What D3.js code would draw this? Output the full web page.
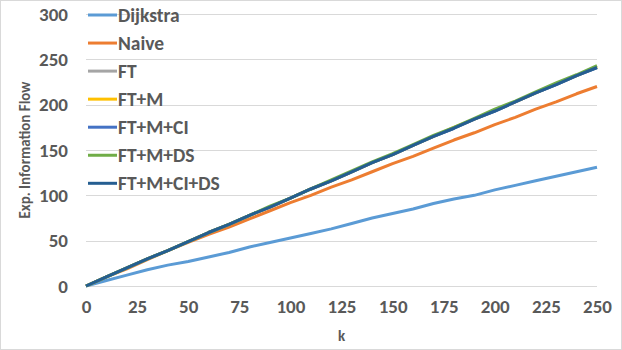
<!DOCTYPE html>
<html>
<head>
<meta charset="utf-8">
<script src="https://cdn.jsdelivr.net/npm/d3@7"></script>
<style>
  body { margin: 0; background: #fff; }
  text { font-family: Carlito, Lato, "Liberation Sans", sans-serif; font-weight: bold; fill: #595959; }
</style>
</head>
<body>
<div id="chart"></div>
<script>
// k values (x axis)
var ks = [0, 10, 20, 30, 40, 50, 60, 70, 80, 90, 100, 110, 120, 130, 140, 150, 160, 170, 180, 190, 200, 210, 220, 230, 240, 250];

// series values
var dijkstra = [0, 6, 12, 18, 23, 27, 32, 37, 43, 48, 53, 58, 63, 69, 75, 80, 85, 91, 96, 100, 106, 111, 116, 121, 126, 131];
var naive    = [0, 10, 19, 29, 39, 48, 57, 65, 74, 83, 92, 100, 109, 117, 126, 135, 143, 152, 161, 169, 178, 186, 195, 203, 212, 220];
var ft       = [0, 10, 20, 30, 39, 49, 59, 68, 78, 87, 97, 107, 116, 126, 136, 145, 155, 165, 174, 184, 193, 203, 213, 222, 232, 241];
var ftM      = [0, 10, 20, 30, 39, 49, 59, 68, 78, 87, 97, 107, 116, 126, 136, 145, 155, 165, 175, 184, 194, 203, 213, 223, 232, 242];
var ftMCI    = [0, 10, 20, 30, 39, 49, 59, 68, 78, 87, 97, 107, 116, 126, 136, 145, 155, 165, 174, 184, 193, 203, 213, 222, 232, 241];
var ftMDS    = [0, 10, 20, 30, 39, 49, 59, 68, 78, 88, 97, 107, 117, 127, 137, 146, 156, 166, 175, 185, 195, 204, 214, 224, 233, 243];
var ftMCIDS  = [0, 10, 20, 30, 39, 49, 59, 68, 78, 87, 97, 107, 116, 126, 136, 145, 155, 165, 174, 184, 193, 203, 213, 222, 232, 241];

var names  = ['Dijkstra', 'Naive', 'FT', 'FT+M', 'FT+M+CI', 'FT+M+DS', 'FT+M+CI+DS'];
var colors = ['#5B9BD5', '#ED7D31', '#A5A5A5', '#FFC000', '#4472C4', '#70AD47', '#255E91'];
var xTicks = [0, 25, 50, 75, 100, 125, 150, 175, 200, 225, 250];
var yTicks = [0, 50, 100, 150, 200, 250, 300];

var seriesValues = [dijkstra, naive, ft, ftM, ftMCI, ftMDS, ftMCIDS];

var W = 622, H = 350;
var margin = {top: 14, right: 25, bottom: 64, left: 86};
var width = W - margin.left - margin.right,
    height = H - margin.top - margin.bottom;

var svg = d3.select("#chart").append("svg")
    .attr("width", W)
    .attr("height", H);

// chart border
svg.append("rect")
    .attr("x", 0.5).attr("y", 0.5)
    .attr("width", W - 1).attr("height", H - 1)
    .attr("fill", "#fff")
    .attr("stroke", "#D9D9D9");

var g = svg.append("g")
    .attr("transform", "translate(" + margin.left + "," + margin.top + ")");

var x = d3.scaleLinear().domain([0, 250]).range([0, width]);
var y = d3.scaleLinear().domain([0, 300]).range([height, 0]);

// horizontal gridlines
g.append("g")
    .attr("class", "grid")
    .call(d3.axisLeft(y).tickValues(yTicks).tickSize(-width).tickFormat(""))
    .call(function(s) {
        s.select(".domain").remove();
        s.selectAll("line").attr("stroke", "#D9D9D9").attr("shape-rendering", "crispEdges");
    });

// y tick labels
g.append("g")
    .call(d3.axisLeft(y).tickValues(yTicks).tickSize(0).tickPadding(18))
    .call(function(s) {
        s.select(".domain").remove();
        s.selectAll("text").style("font-size", "19px").attr("fill", "#595959");
    });

// x tick labels
g.append("g")
    .attr("transform", "translate(0," + height + ")")
    .call(d3.axisBottom(x).tickValues(xTicks).tickSize(0).tickPadding(14))
    .call(function(s) {
        s.select(".domain").remove();
        s.selectAll("text").style("font-size", "19px").attr("fill", "#595959");
    });

// lines
var line = d3.line()
    .x(function(d, i) { return x(ks[i]); })
    .y(function(d) { return y(d); });

seriesValues.forEach(function(vals, i) {
    g.append("path")
        .datum(vals)
        .attr("fill", "none")
        .attr("stroke", colors[i])
        .attr("stroke-width", 3)
        .attr("stroke-linejoin", "round")
        .attr("d", line);
});

// axis titles
svg.append("text")
    .attr("transform", "translate(30," + (margin.top + height / 2) + ") rotate(-90)")
    .attr("text-anchor", "middle")
    .style("font-size", "15px")
    .text("Exp. Information Flow");

svg.append("text")
    .attr("x", margin.left + width / 2)
    .attr("y", 341)
    .attr("text-anchor", "middle")
    .style("font-size", "15px")
    .text("k");

// legend
var legend = svg.append("g");
names.forEach(function(name, i) {
    var ly = 15 + i * 28.05;
    legend.append("line")
        .attr("x1", 88).attr("x2", 117)
        .attr("y1", ly).attr("y2", ly)
        .attr("stroke", colors[i])
        .attr("stroke-width", 3);
    legend.append("text")
        .attr("x", 118)
        .attr("y", ly)
        .attr("dy", "0.35em")
        .style("font-size", "19.5px")
        .text(name);
});
</script>
</body>
</html>
